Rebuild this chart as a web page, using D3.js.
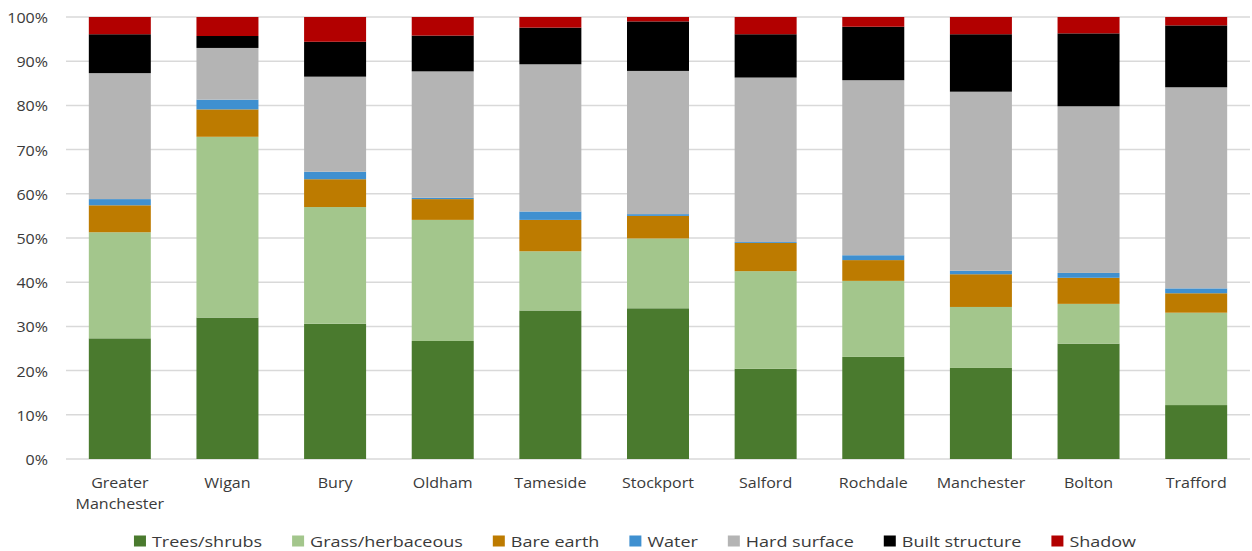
<!DOCTYPE html>
<html>
<head>
<meta charset="utf-8">
<script src="https://cdn.jsdelivr.net/npm/d3@7"></script>
<style>
  html, body { margin: 0; padding: 0; background: #fff; }
  svg { display: block; font-family: "Open Sans", "Noto Sans", sans-serif; }
</style>
</head>
<body>
<svg id="chart" width="1252" height="551"></svg>
<script>
// Land cover share (%) by district
const categories = ["Greater Manchester", "Wigan", "Bury", "Oldham", "Tameside", "Stockport",
  "Salford", "Rochdale", "Manchester", "Bolton", "Trafford"];
const seriesNames = ["Trees/shrubs", "Grass/herbaceous", "Bare earth", "Water",
  "Hard surface", "Built structure", "Shadow"];
const treesShrubs     = [27.3, 32.0, 30.6, 26.7, 33.6, 34.1, 20.4, 23.1, 20.6, 26.1, 12.2];
const grassHerbaceous = [24.0, 40.9, 26.4, 27.4, 13.4, 15.8, 22.1, 17.2, 13.8,  9.0, 20.9];
const bareEarth       = [ 6.1,  6.2,  6.3,  4.7,  7.1,  5.1,  6.4,  4.7,  7.4,  5.9,  4.4];
const water           = [ 1.4,  2.2,  1.7,  0.3,  1.9,  0.4,  0.2,  1.1,  0.8,  1.1,  1.1];
const hardSurface     = [28.5, 11.7, 21.5, 28.6, 33.3, 32.4, 37.2, 39.6, 40.5, 37.7, 45.5];
const builtStructure  = [ 8.8,  2.7,  7.9,  8.1,  8.3, 11.2,  9.8, 12.1, 13.0, 16.5, 14.0];
const shadow          = [ 3.9,  4.3,  5.6,  4.2,  2.4,  1.0,  3.9,  2.2,  3.9,  3.7,  1.9];
const yTicks = [0, 10, 20, 30, 40, 50, 60, 70, 80, 90, 100];
const colors = ["#4a7a2e", "#a3c68c", "#bd7b00", "#3f90d0", "#b4b4b4", "#000000", "#b20000"];

const seriesValues = [treesShrubs, grassHerbaceous, bareEarth, water, hardSurface, builtStructure, shadow];
const rows = categories.map((c, i) => {
  const r = { category: c };
  seriesNames.forEach((s, k) => { r[s] = seriesValues[k][i]; });
  return r;
});

const svg = d3.select("#chart");
const plot = { left: 66, right: 1250, top: 17, bottom: 459 };
const textColor = "#3a3a3a";

const x = d3.scaleBand().domain(categories).range([plot.left, plot.right])
  .paddingInner(0.424).paddingOuter(0.212);
const y = d3.scaleLinear().domain([0, 100]).range([plot.bottom, plot.top]);

// gridlines
svg.append("g")
  .selectAll("line")
  .data(yTicks)
  .join("line")
  .attr("x1", plot.left).attr("x2", plot.right)
  .attr("y1", d => y(d)).attr("y2", d => y(d))
  .attr("stroke", "#d9d9d9").attr("stroke-width", 1.5);

// y axis labels
const yAxis = svg.append("g")
  .attr("transform", "translate(48,0)")
  .call(d3.axisLeft(y).tickValues(yTicks).tickFormat(d => d + "%").tickSize(0).tickPadding(0));
yAxis.select(".domain").remove();
yAxis.selectAll("text")
  .attr("font-size", 15).attr("fill", textColor)
  .attr("font-family", "'Open Sans', sans-serif")
  .attr("x", 0).attr("dy", "0.36em")
  .attr("transform", "scale(1.07,1)");

// stacked bars
const stacked = d3.stack().keys(seriesNames)(rows);
svg.append("g")
  .selectAll("g")
  .data(stacked)
  .join("g")
  .attr("fill", (d, i) => colors[i])
  .selectAll("rect")
  .data(d => d)
  .join("rect")
  .attr("x", d => x(d.data.category))
  .attr("width", x.bandwidth())
  .attr("y", d => y(d[1]))
  .attr("height", d => y(d[0]) - y(d[1]));

// category axis
const xAxis = svg.append("g")
  .attr("transform", `translate(0,${plot.bottom})`)
  .call(d3.axisBottom(x).tickSize(0).tickPadding(0));
xAxis.select(".domain").remove();
xAxis.selectAll("text").remove();
xAxis.selectAll(".tick").each(function(d) {
  const words = d === "Greater Manchester" ? ["Greater", "Manchester"] : [d];
  const t = d3.select(this).append("text")
    .attr("text-anchor", "middle")
    .attr("font-size", 15)
    .attr("fill", textColor)
    .attr("font-family", "'Open Sans', sans-serif")
    .attr("transform", "scale(1.07,1)");
  words.forEach((w, i) => {
    t.append("tspan").attr("x", 0).attr("y", 29 + i * 21).text(w);
  });
});

// legend
const legendScaleX = 1.2;
const legend = svg.append("g").attr("font-size", 15).attr("fill", textColor);
const items = legend.selectAll("g").data(seriesNames).join("g");
items.append("rect").attr("width", 12).attr("height", 11).attr("y", -11.5)
  .attr("fill", (d, i) => colors[i]);
items.append("text")
  .attr("transform", `translate(18,0) scale(${legendScaleX},1)`)
  .text(d => d);
let cx = 0;
const gap = 30;
items.each(function() {
  const w = this.querySelector("text").getComputedTextLength() * legendScaleX + 18;
  d3.select(this).attr("transform", `translate(${cx},0)`);
  cx += w + gap;
});
const total = cx - gap;
legend.attr("transform", `translate(${635 - total / 2},547)`);
</script>
</body>
</html>
